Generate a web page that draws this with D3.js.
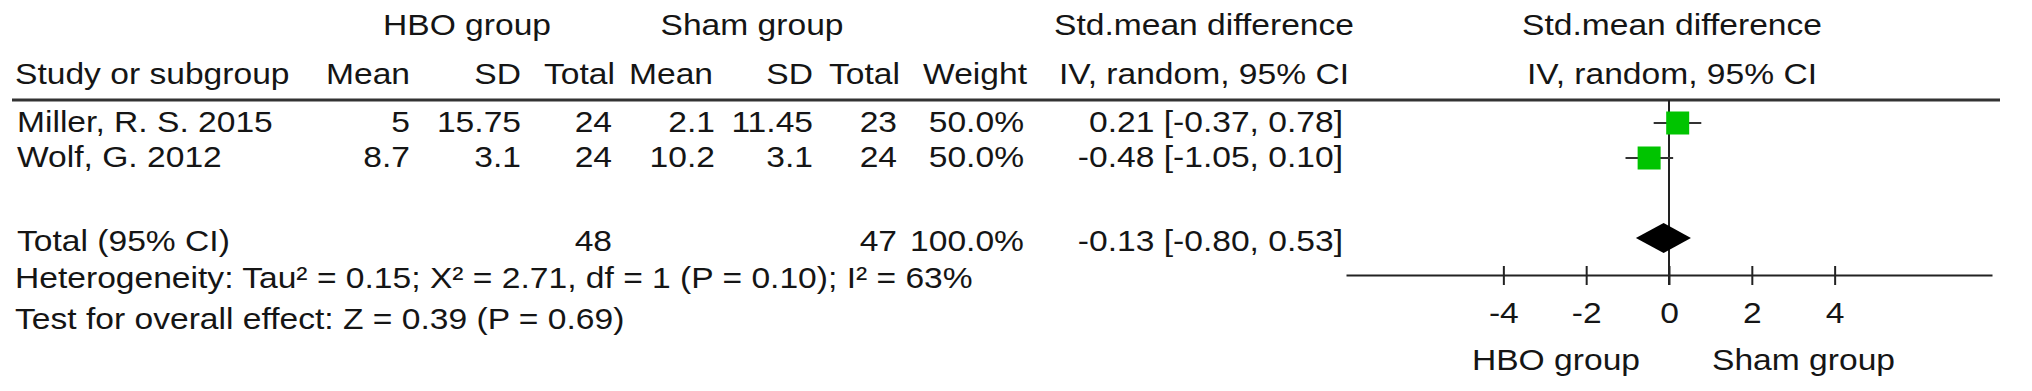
<!DOCTYPE html>
<html>
<head>
<meta charset="utf-8">
<script src="https://cdn.jsdelivr.net/npm/d3@7"></script>
<style>
  html, body { margin: 0; padding: 0; background: #fff; }
  svg { display: block; }
  text { font-family: "Liberation Sans", Arial, sans-serif; fill: #151515; }
</style>
</head>
<body>
<svg id="chart" width="2032" height="391"></svg>
<script>
// ---- data ----
const studies   = ["Miller, R. S. 2015", "Wolf, G. 2012"];
const hboMean   = ["5", "8.7"];
const hboSD     = ["15.75", "3.1"];
const hboTotal  = [24, 24];
const shamMean  = ["2.1", "10.2"];
const shamSD    = ["11.45", "3.1"];
const shamTotal = [23, 24];
const weights   = ["50.0%", "50.0%"];
const smd       = [0.21, -0.48];
const ciLow     = [-0.37, -1.05];
const ciHigh    = [0.78, 0.10];

const totalLabel  = "Total (95% CI)";
const totalHbo    = 48;
const totalSham   = 47;
const totalWeight = "100.0%";
const totalSmd    = -0.13;
const totalLow    = -0.80;
const totalHigh   = 0.53;

const heterogeneity = "Heterogeneity: Tau\u00B2 = 0.15; X\u00B2 = 2.71, df = 1 (P = 0.10); I\u00B2 = 63%";
const overallEffect = "Test for overall effect: Z = 0.39 (P = 0.69)";

const tickValues = [-4, -2, 0, 2, 4];
const axisDomain = [-7.8, 7.8];
const favoursLeft = "HBO group";
const favoursRight = "Sham group";

// ---- layout ----
const FS = 30, SX = 1.12;
const svg = d3.select("#chart");
const g = svg.append("g");
const locale = d3.formatLocale({ decimal: ".", thousands: ",", grouping: [3], currency: ["", ""], minus: "-" });

function txt(x, y, s, anchor) {
  return g.append("text")
    .attr("transform", `translate(${x},${y}) scale(${SX},1)`)
    .attr("text-anchor", anchor || "start")
    .attr("font-size", FS)
    .text(s);
}
const fmt = locale.format(".2f");
function ciText(m, lo, hi) { return `${fmt(m)} [${fmt(lo)}, ${fmt(hi)}]`; }

// column anchors (right edges)
const col = { label: 15, hMean: 410, hSD: 521, hN: 612, sMean: 715, sSD: 813, sN: 897, w: 1024, ci: 1343 };

// header
const yH1 = 35, yH2 = 84;
txt(467, yH1, "HBO group", "middle");
txt(752, yH1, "Sham group", "middle");
txt(1204, yH1, "Std.mean difference", "middle");
txt(1672, yH1, "Std.mean difference", "middle");
txt(col.label, yH2, "Study or subgroup");
txt(col.hMean, yH2, "Mean", "end");
txt(col.hSD, yH2, "SD", "end");
txt(615, yH2, "Total", "end");
txt(713, yH2, "Mean", "end");
txt(col.sSD, yH2, "SD", "end");
txt(900, yH2, "Total", "end");
txt(1027, yH2, "Weight", "end");
txt(1204, yH2, "IV, random, 95% CI", "middle");
txt(1672, yH2, "IV, random, 95% CI", "middle");

// header rule
g.append("line").attr("x1", 12).attr("x2", 2000).attr("y1", 100).attr("y2", 100)
  .attr("stroke", "#333").attr("stroke-width", 3);

// scale
const x = d3.scaleLinear().domain(axisDomain).range([1346, 1992]);

// study rows
const rowY = d3.scalePoint().domain(studies).range([132, 167]);
studies.forEach((s, i) => {
  const y = rowY(s);
  txt(col.label + 2, y, s);
  txt(col.hMean, y, hboMean[i], "end");
  txt(col.hSD, y, hboSD[i], "end");
  txt(col.hN, y, hboTotal[i], "end");
  txt(col.sMean, y, shamMean[i], "end");
  txt(col.sSD, y, shamSD[i], "end");
  txt(col.sN, y, shamTotal[i], "end");
  txt(col.w, y, weights[i], "end");
  txt(col.ci, y, ciText(smd[i], ciLow[i], ciHigh[i]), "end");
});

// total row
const yT = 251;
txt(col.label + 2, yT, totalLabel);
txt(col.hN, yT, totalHbo, "end");
txt(col.sN, yT, totalSham, "end");
txt(col.w, yT, totalWeight, "end");
txt(col.ci, yT, ciText(totalSmd, totalLow, totalHigh), "end");
txt(col.label, 288, heterogeneity);
txt(col.label, 329, overallEffect);

// axis
const axisY = 275;
const axisG = g.append("g").attr("transform", `translate(0,${axisY})`)
  .call(d3.axisBottom(x).tickValues(tickValues).tickSizeOuter(0).tickFormat(locale.format("d")));
axisG.select(".domain").attr("stroke", "#222").attr("stroke-width", 2);
axisG.selectAll(".tick line").attr("y1", -9).attr("y2", 10).attr("stroke", "#222").attr("stroke-width", 2);
axisG.selectAll(".tick text")
  .attr("y", 48).attr("dy", 0).attr("x", 0)
  .attr("font-size", FS)
  .attr("font-family", "Liberation Sans, Arial, sans-serif")
  .attr("fill", "#151515")
  .attr("transform", `scale(${SX},1)`);

// zero line
g.append("line").attr("x1", x(0)).attr("x2", x(0)).attr("y1", 100).attr("y2", axisY + 10)
  .attr("stroke", "#222").attr("stroke-width", 2);

// CI whiskers & squares
const sq = 23;
studies.forEach((s, i) => {
  const cy = rowY(s) - 9;
  g.append("line").attr("x1", x(ciLow[i])).attr("x2", x(ciHigh[i]))
    .attr("y1", cy).attr("y2", cy).attr("stroke", "#333").attr("stroke-width", 2);
  g.append("rect").attr("x", x(smd[i]) - sq / 2).attr("y", cy - sq / 2)
    .attr("width", sq).attr("height", sq).attr("fill", "#00c400");
});

// diamond
const dy = 238, dh = 15;
g.append("path")
  .attr("d", `M${x(totalLow)},${dy} L${x(totalSmd)},${dy - dh} L${x(totalHigh)},${dy} L${x(totalSmd)},${dy + dh} Z`)
  .attr("fill", "#000");

// favours labels
txt(1640, 370, favoursLeft, "end");
txt(1712, 370, favoursRight, "start");
</script>
</body>
</html>
